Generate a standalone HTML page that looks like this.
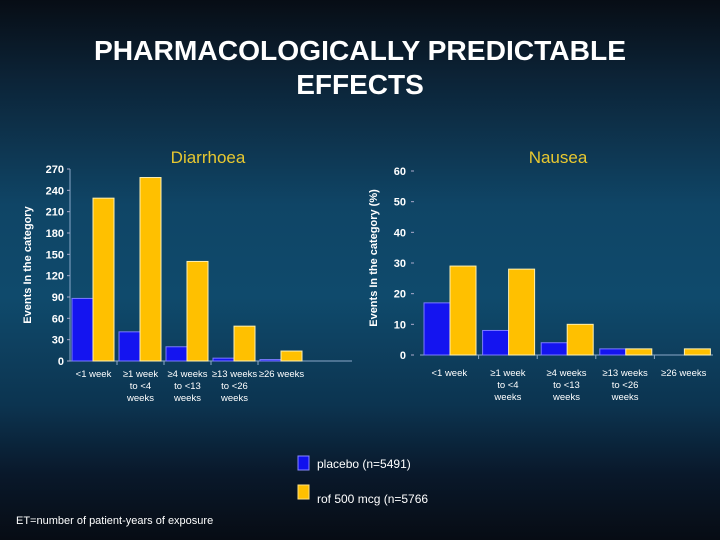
<!DOCTYPE html>
<html><head><meta charset="utf-8"><style>
body{margin:0;width:720px;height:540px;overflow:hidden;font-family:"Liberation Sans",sans-serif;}
#bg{position:absolute;left:0;top:0;width:720px;height:540px;background:linear-gradient(to bottom,#070d15 0%,#0c2438 15%,#0f4566 38%,#0f4a6c 55%,#0c3450 75%,#09182a 88%,#070c14 100%);}
</style></head><body>
<div id="bg"></div>
<svg id="s" width="720" height="540" style="position:absolute;left:0;top:0">
<text x="360" y="60" text-anchor="middle" fill="#fff" font-size="28" font-weight="bold" textLength="532" lengthAdjust="spacingAndGlyphs">PHARMACOLOGICALLY PREDICTABLE</text>
<text x="360" y="94" text-anchor="middle" fill="#fff" font-size="28" font-weight="bold">EFFECTS</text>
<text x="208" y="163" text-anchor="middle" fill="#e8c830" font-size="17">Diarrhoea</text>
<text x="558" y="163" text-anchor="middle" fill="#e8c830" font-size="17">Nausea</text>
<text transform="translate(31,265) rotate(-90)" text-anchor="middle" fill="#fff" font-size="11" font-weight="bold">Events In the category</text>
<text transform="translate(377,258) rotate(-90)" text-anchor="middle" fill="#fff" font-size="11" font-weight="bold">Events In the category (%)</text>
<rect x="298" y="456" width="11" height="14" fill="#1010ee" stroke="#8888ff"/>
<text x="317" y="468" fill="#fff" font-size="12">placebo (n=5491)</text>
<rect x="298" y="485" width="11" height="14" fill="#ffc000" stroke="#ffe080"/>
<text x="317" y="503" fill="#fff" font-size="12">rof 500 mcg (n=5766</text>
<text x="16" y="524" fill="#fff" font-size="11">ET=number of patient-years of exposure</text>
</svg>
<script>
const cats=[["<1 week"],["≥1 week","to <4","weeks"],["≥4 weeks","to <13","weeks"],["≥13 weeks","to <26","weeks"],["≥26 weeks"]];
const dPlacebo=[88,41,20,4,2];
const dRof=[229,258,140,49,14];
const dTicks=[0,30,60,90,120,150,180,210,240,270];
const nPlacebo=[17,8,4,2,0];
const nRof=[29,28,10,2,2];
const nTicks=[0,10,20,30,40,50,60];
const svg=document.getElementById('s');const NS='http://www.w3.org/2000/svg';
function mk(t,a){const e=document.createElementNS(NS,t);for(const k in a)e.setAttribute(k,a[k]);svg.appendChild(e);return e;}
function chart(o){
 const y=v=>o.y0-(v/o.max)*(o.y0-o.y1);
 let ax=mk('line',{x1:o.x0,y1:o.y0,x2:o.x2,y2:o.y0,stroke:'#8aa8c8','stroke-width':1});
 
 if(o.vaxis){let va=mk('line',{x1:o.x0,y1:o.y0,x2:o.x0,y2:o.y1,stroke:'#8aa8c8'});}
 o.ticks.forEach(t=>{
  let tl=mk('text',{x:o.x0-(o.vaxis?6:14),y:y(t)+4,'text-anchor':'end',fill:'#fff','font-size':11,'font-weight':'bold'});tl.textContent=t;
  
  let tk=mk('line',{x1:o.x0-(o.vaxis?3:9),y1:y(t),x2:o.x0-(o.vaxis?0:6),y2:y(t),stroke:'#aac'});
  
 });
 cats.forEach((c,i)=>{
  const sx=o.x0+i*o.slot;
  if(i>0){let tk=mk('line',{x1:sx,y1:o.y0,x2:sx,y2:o.y0+4,stroke:'#8aa8c8'});}
  const bw=o.bw;const bx=sx+o.pad;
  let b1=mk('rect',{x:bx,y:y(o.a[i]),width:bw,height:o.y0-y(o.a[i]),fill:'#1414f0',stroke:'#7a7aff','stroke-width':1});
  
  let b2=mk('rect',{x:bx+bw,y:y(o.b[i]),width:bw,height:o.y0-y(o.b[i]),fill:'#ffc000',stroke:'#fff0b0','stroke-width':1});
  
  c.forEach((l,j)=>{let t=mk('text',{x:sx+o.slot/2,y:o.y0+o.lab+j*12,'text-anchor':'middle',fill:'#fff','font-size':9.5});t.textContent=l;
   });
 });
}
chart({id:'diarrhoea',x0:70,x2:352,slot:47,pad:2,bw:21,y0:361,y1:169,max:270,ticks:dTicks,a:dPlacebo,b:dRof,vaxis:true,lab:16});
chart({id:'nausea',x0:420,x2:713,slot:58.6,pad:4,bw:26,y0:355,y1:171,max:60,ticks:nTicks,a:nPlacebo,b:nRof,vaxis:false,lab:21});
</script>
</body></html>
